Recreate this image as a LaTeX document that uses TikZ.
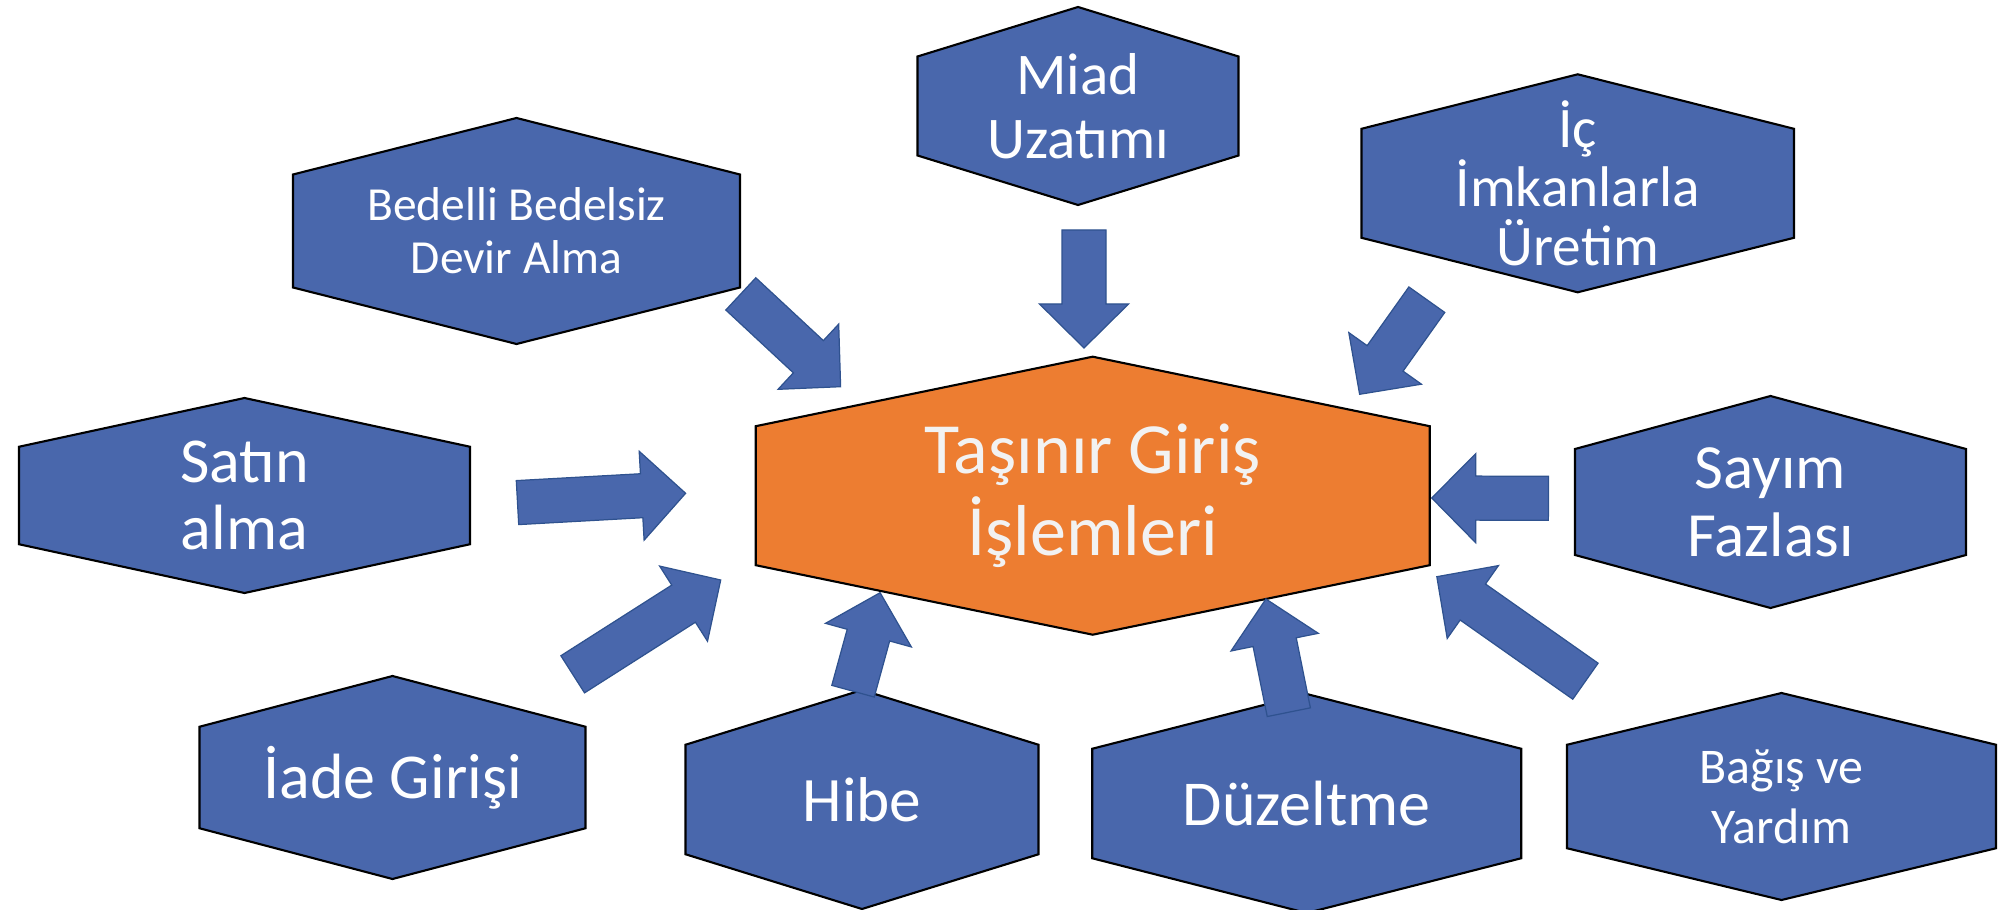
\documentclass[tikz,border=0pt]{standalone}
\usepackage{fontspec}
\setmainfont{Carlito}
\usetikzlibrary{calc}

\definecolor{hexblue}{RGB}{73,103,172}
\definecolor{arrowedge}{RGB}{47,82,143}
\definecolor{hexorange}{RGB}{237,125,49}

\newcommand{\fs}[2]{\fontsize{#1}{#2}\selectfont}
% [node style]{name}{cx}{cy}{width}{height}{fill}{text}
\newcommand{\hexnode}[8][]{%
	\filldraw[hexline, fill=#7] (#3,#4) ++(0,-#6/2) -- ++(-#5/2,#6/4) -- ++(0,#6/2) -- ++(#5/2,#6/4) -- ++(#5/2,-#6/4) -- ++(0,-#6/2) -- cycle;
	\node[hextext, #1] (#2) at (#3,#4) {#8};
}
% {tail}{tip}
\newcommand{\blockarrow}[2]{%
	\coordinate (#1b) at ($(#2)!0.44cm!(#1)$);
	\filldraw[blockline] ($(#1)!0.22cm!90:(#2)$) -- ($(#1b)!0.22cm!90:(#2)$) -- ($(#1b)!0.445cm!90:(#2)$) -- (#2) -- ($(#1b)!0.445cm!-90:(#2)$) -- ($(#1b)!0.22cm!-90:(#2)$) -- ($(#1)!0.22cm!-90:(#2)$) -- cycle;
}

\begin{document}
\begin{tikzpicture}[x=0.01cm, y=-0.01cm,
		hexline/.style={draw=black, line width=0.6pt, line join=miter},
		hextext/.style={text=white, align=center, inner sep=0pt},
		blockline/.style={fill=hexblue, draw=arrowedge, line width=0.35pt, line join=miter}]
	\useasboundingbox (0,0) rectangle (1998,910);
	% hexagons
	\hexnode[font=\fs{20.5}{23.2}, text=white!95!black]{giris}{1092.7}{495.7}{674}{278}{hexorange}{Taşınır Giriş\\İşlemleri}
	\hexnode[font=\fs{13.5}{15}]{bedelli}{516.5}{231}{447}{226}{hexblue}{Bedelli Bedelsiz\\Devir Alma}
	\hexnode[font=\fs{16.8}{18.3}]{miad}{1078}{106}{321}{198}{hexblue}{Miad\\Uzatımı}
	\hexnode[font=\fs{16.3}{16.9}]{ic}{1577.7}{183.3}{432.5}{218}{hexblue}{İç\\İmkanlarla\\Üretim}
	\hexnode[font=\fs{18.2}{19.3}]{satin}{244.5}{495.5}{451}{195}{hexblue}{Satın\\alma}
	\hexnode[font=\fs{17.9}{19.4}]{sayim}{1770.5}{502}{391}{212}{hexblue}{Sayım\\Fazlası}
	\hexnode[font=\fs{18.2}{19.3}]{iade}{392.5}{777.5}{386}{203}{hexblue}{İade Girişi}
	\hexnode[font=\fs{18}{19.3}]{hibe}{862}{799.5}{353}{219}{hexblue}{Hibe}
	\hexnode[font=\fs{18.2}{20}]{duzeltme}{1306.7}{803.5}{429}{219}{hexblue}{Düzeltme}
	\hexnode[font=\fs{14.2}{17}]{bagis}{1781.5}{796.5}{429}{207}{hexblue}{Bağış ve\\Yardım}
	% arrow ends
	\coordinate (bedelli-t) at (740.8,293.9);
	\coordinate (bedelli-h) at (840.6,386.7);
	\coordinate (miad-t) at (1084,230);
	\coordinate (miad-h) at (1084,348);
	\coordinate (ic-t) at (1426.8,299.7);
	\coordinate (ic-h) at (1359.6,394.3);
	\coordinate (satin-t) at (517.5,502.6);
	\coordinate (satin-h) at (685.6,493.3);
	\coordinate (iade-t) at (572.7,674.3);
	\coordinate (iade-h) at (720.7,580);
	\coordinate (hibe-t) at (853,691.2);
	\coordinate (hibe-h) at (880.1,592.7);
	\coordinate (duzeltme-t) at (1288.8,712.2);
	\coordinate (duzeltme-h) at (1265.9,599);
	\coordinate (bagis-t) at (1585.4,681.2);
	\coordinate (bagis-h) at (1436.8,576.7);
	\coordinate (sayim-t) at (1548.4,498.3);
	\coordinate (sayim-h) at (1431.7,498);
	% block arrows
	\blockarrow{bedelli-t}{bedelli-h}
	\blockarrow{miad-t}{miad-h}
	\blockarrow{ic-t}{ic-h}
	\blockarrow{satin-t}{satin-h}
	\blockarrow{iade-t}{iade-h}
	\blockarrow{hibe-t}{hibe-h}
	\blockarrow{duzeltme-t}{duzeltme-h}
	\blockarrow{bagis-t}{bagis-h}
	\blockarrow{sayim-t}{sayim-h}
\end{tikzpicture}
\end{document}
